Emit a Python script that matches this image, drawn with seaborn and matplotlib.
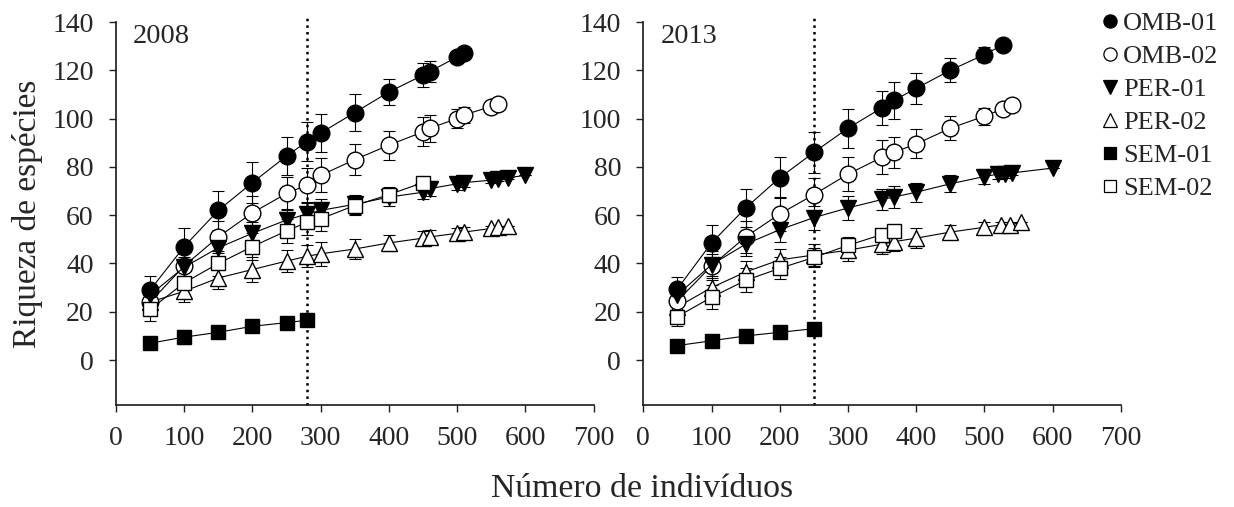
import matplotlib
matplotlib.use("Agg")
import matplotlib.pyplot as plt
from matplotlib.lines import Line2D
import seaborn as sns

# ---- data: rarefaction curves (mean richness ± error) per site and year ----
sites = ["OMB-01", "OMB-02", "PER-01", "PER-02", "SEM-01", "SEM-02"]

# 2008
x08_omb01 = [50, 100, 150, 200, 250, 280, 300, 350, 400, 450, 460, 500, 510]
y08_omb01 = [29, 47, 62, 73.5, 84.5, 90.5, 94, 102.5, 111, 118, 119.5, 125.5, 127]
e08_omb01 = [6, 7.5, 8, 8.5, 8, 8, 8, 7.5, 5.5, 5, 4.5, 1.5, 0]

x08_omb02 = [50, 100, 150, 200, 250, 280, 300, 350, 400, 450, 460, 500, 510, 550, 560]
y08_omb02 = [24, 39, 51, 61, 69, 72.5, 76.5, 83, 89, 94.5, 96, 100, 101.5, 105, 106]
e08_omb02 = [4, 6, 6.5, 7, 7, 7, 7, 6.5, 6, 6, 5.5, 4, 3.5, 0.5, 0]

x08_per01 = [50, 100, 150, 200, 250, 280, 300, 350, 400, 450, 460, 500, 510, 550, 560, 575, 600]
y08_per01 = [27, 38.5, 46.5, 52.5, 58, 60.5, 62, 64.5, 67.5, 69.5, 71, 73, 73.5, 74.5, 75, 75.5, 76.5]
e08_per01 = [3, 4, 4.5, 4.5, 4.5, 4.5, 4.5, 4, 3.5, 3, 3, 2.5, 2, 1, 1, 0.5, 0]

x08_per02 = [50, 100, 150, 200, 250, 280, 300, 350, 400, 450, 460, 500, 510, 550, 560, 575]
y08_per02 = [24, 28.5, 34, 37.5, 41, 43, 44, 46, 48.5, 50.5, 51, 52.5, 53, 54.5, 55, 55.5]
e08_per02 = [3, 4.5, 4.5, 5, 4.5, 4.5, 5, 4, 3.5, 3, 3, 2, 2, 1, 0.5, 0]

x08_sem01 = [50, 100, 150, 200, 250, 280]
y08_sem01 = [7, 9.5, 11.5, 14, 15.5, 16.5]
e08_sem01 = [2.5, 3, 2, 1.5, 1, 0]

x08_sem02 = [50, 100, 150, 200, 250, 280, 300, 350, 400, 450]
y08_sem02 = [21, 32, 40, 47, 53.5, 57, 58.5, 64, 68.5, 73.5]
e08_sem02 = [5, 5, 5, 5.5, 5, 5, 5, 4, 3, 0]

# 2013
x13_omb01 = [50, 100, 150, 200, 250, 300, 350, 367, 400, 450, 500, 527]
y13_omb01 = [29.5, 48.5, 63, 75.5, 86, 96, 104.5, 107.5, 112.5, 120, 126.5, 130.5]
e13_omb01 = [5, 7.5, 8, 8.5, 8.5, 8, 7, 7.5, 6.5, 5, 3, 0]

x13_omb02 = [50, 100, 150, 200, 250, 300, 350, 367, 400, 450, 500, 527, 540]
y13_omb02 = [24.5, 39, 51, 60.5, 68.5, 77, 84, 86, 89.5, 96, 101, 104, 105.5]
e13_omb02 = [4, 6, 6.5, 7, 7, 7, 7, 6.5, 6, 5, 3.5, 1, 0]

x13_per01 = [50, 100, 150, 200, 250, 300, 350, 367, 400, 450, 500, 520, 530, 540, 600]
y13_per01 = [27, 39.5, 48, 54, 59, 63, 66.5, 67.5, 69.5, 73, 76, 77, 77, 77.5, 79.5]
e13_per01 = [3.5, 4.5, 5, 5, 5, 5, 4.5, 4.5, 4, 3.5, 3, 2, 1.5, 1, 0]

x13_per02 = [50, 100, 150, 200, 250, 300, 350, 367, 400, 450, 500, 525, 538, 553]
y13_per02 = [22, 30, 36.5, 41.5, 43.5, 45.5, 48, 49, 50.5, 53, 55, 56, 56, 57]
e13_per02 = [3, 4, 4.5, 4.5, 4.5, 4.5, 4, 4, 4, 3, 2, 1, 1, 0]

x13_sem01 = [50, 100, 150, 200, 250]
y13_sem01 = [6, 8, 10, 11.5, 13]
e13_sem01 = [1.5, 1.5, 1.5, 1, 0]

x13_sem02 = [50, 100, 150, 200, 250, 300, 350, 367]
y13_sem02 = [18, 26, 33, 38, 42.5, 47.5, 52, 53.5]
e13_sem02 = [4, 5, 5, 4.5, 4, 3.5, 1.5, 0]

years = ["2008", "2013"]
cutoffs = [280, 250]  # dotted reference line (smallest sample)

x_ticks = [0, 100, 200, 300, 400, 500, 600, 700]
y_ticks = [0, 20, 40, 60, 80, 100, 120, 140]

panels = [
    {"OMB-01": (x08_omb01, y08_omb01, e08_omb01),
     "OMB-02": (x08_omb02, y08_omb02, e08_omb02),
     "PER-01": (x08_per01, y08_per01, e08_per01),
     "PER-02": (x08_per02, y08_per02, e08_per02),
     "SEM-01": (x08_sem01, y08_sem01, e08_sem01),
     "SEM-02": (x08_sem02, y08_sem02, e08_sem02)},
    {"OMB-01": (x13_omb01, y13_omb01, e13_omb01),
     "OMB-02": (x13_omb02, y13_omb02, e13_omb02),
     "PER-01": (x13_per01, y13_per01, e13_per01),
     "PER-02": (x13_per02, y13_per02, e13_per02),
     "SEM-01": (x13_sem01, y13_sem01, e13_sem01),
     "SEM-02": (x13_sem02, y13_sem02, e13_sem02)},
]

# marker, face colour, size (pt)
styles = {
    "OMB-01": ("o", "black", 12),
    "OMB-02": ("o", "white", 12),
    "PER-01": ("v", "black", 12),
    "PER-02": ("^", "white", 12),
    "SEM-01": ("s", "black", 10.5),
    "SEM-02": ("s", "white", 10.5),
}
draw_order = ["PER-02", "OMB-02", "PER-01", "SEM-02", "SEM-01", "OMB-01"]

sns.set_theme(style="ticks")
plt.rcParams["font.family"] = ["Liberation Serif", "DejaVu Serif"]
plt.rcParams["axes.edgecolor"] = "#222222"

fig = plt.figure(figsize=(12.34, 5.07), dpi=100)
ax_w = 477.5 / 1234
ax_h = 383 / 507
ax_b = 102 / 507
axes = [fig.add_axes([116 / 1234, ax_b, ax_w, ax_h]),
        fig.add_axes([643.3 / 1234, ax_b, ax_w, ax_h])]

ylo, yhi = -18.6, 140
for ax, data, year, cut in zip(axes, panels, years, cutoffs):
    # error bars sit underneath the curves
    for z, site in enumerate(draw_order):
        xs, ys, es = data[site]
        ax.errorbar(xs, ys, yerr=es, fmt="none", ecolor="black",
                    elinewidth=0.8, capsize=4.5, capthick=0.8, zorder=1 + z * 0.01)
    for z, site in enumerate(draw_order):
        xs, ys, es = data[site]
        m, fc, ms = styles[site]
        sns.lineplot(x=xs, y=ys, ax=ax, color="black", linewidth=0.8,
                     marker=m, markersize=ms, markerfacecolor=fc,
                     markeredgecolor="black", markeredgewidth=1.0,
                     zorder=3 + z)
    ax.plot([cut, cut], [ylo, 142.2], linestyle=":", color="black",
            linewidth=1.8, clip_on=False, zorder=2)

    ax.set_xlim(0, 700)
    ax.set_ylim(ylo, yhi)
    ax.set_xticks(x_ticks)
    ax.set_yticks(y_ticks)
    ax.set_xlabel("")
    ax.set_ylabel("")
    sns.despine(ax=ax)
    ax.tick_params(axis="both", labelsize=20, length=5, width=1,
                   direction="out", color="#222222")
    ax.tick_params(axis="x", pad=10)
    ax.tick_params(axis="y", pad=11)
    ax.text(0.036, 0.944, year, transform=ax.transAxes, fontsize=20.5,
            ha="left", va="baseline")

axes[0].set_ylabel("Riqueza de espécies", fontsize=24, labelpad=7)
fig.text(642 / 1234, 1 - 497 / 507, "Número de indivíduos", fontsize=24.3,
         ha="center", va="baseline")

handles = []
for site in sites:
    m, fc, ms = styles[site]
    handles.append(Line2D([], [], linestyle="none", marker=m,
                          markersize=9.5 if m != "s" else 8.5,
                          markerfacecolor=fc, markeredgecolor="black",
                          markeredgewidth=0.9, label=site))
fig.legend(handles=handles, loc="upper left",
           bbox_to_anchor=(1102 / 1234, 1 - 12 / 507),
           frameon=False, fontsize=19, handlelength=0.6, handletextpad=0.2,
           labelspacing=0.36, borderpad=0, borderaxespad=0)

fig.savefig("out.png", dpi=100, facecolor="white")
